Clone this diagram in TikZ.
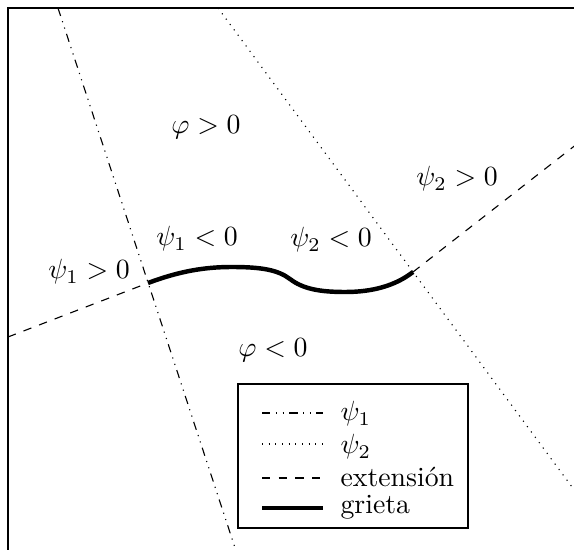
\documentclass[tikz,border=0pt]{standalone}
\usetikzlibrary{positioning}
\tikzset{
  lv frame/.style={draw=black, line width=.6pt},
  lv psi one/.style={draw=black, line width=.4pt, dash dot dot},
  lv psi two/.style={draw=black, line width=.4pt, dotted},
  lv extension/.style={draw=black, line width=.4pt, dashed},
  lv crack/.style={draw=black, line width=1.6pt},
  lv region/.style={inner sep=1pt},
  lv key/.style={anchor=west, inner sep=0pt}
}

\begin{document}
\begin{tikzpicture}[x=.36pt,y=-.36pt]
  \useasboundingbox (0,0) rectangle (574,550);
  \clip (0,0) rectangle (574,550);
  \path[fill=white] (0,0) rectangle (574,550);
  \draw[lv frame] (8,8) rectangle (620,600);

  % crack tips and level set lines
  \coordinate (tipL) at (148,283);
  \coordinate (tipR) at (413,272);
  \coordinate (psi1 top) at (58,8);
  \coordinate (psi1 bot) at (239,560);
  \coordinate (psi2 top) at (218,8);
  \coordinate (psi2 bot) at (626,560);
  \coordinate (ext left) at (8,337);
  \coordinate (ext right) at (600,126);

  \draw[lv psi one] (psi1 top) -- (psi1 bot);
  \draw[lv psi two] (psi2 top) -- (psi2 bot);
  \draw[lv extension] (ext left) -- (tipL);
  \draw[lv extension] (tipR) -- (ext right);
  \draw[lv crack] (tipL) .. controls (180,271) and (205,267) .. (232,267)
    .. controls (262,267) and (278,270) .. (290,279)
    .. controls (303,289) and (320,292) .. (345,292)
    .. controls (372,292) and (395,286) .. (tipR);

  % regions
  \node[lv region] (phi pos) at (206,127) {$\varphi>0$};
  \node[lv region] (phi neg) at (273,350) {$\varphi<0$};
  \node[lv region] (psi1 pos) at (89,272) {$\psi_1>0$};
  \node[lv region] (psi1 neg) at (197,239) {$\psi_1<0$};
  \node[lv region] (psi2 neg) at (331,240) {$\psi_2<0$};
  \node[lv region] (psi2 pos) at (457,179) {$\psi_2>0$};

  % legend
  \draw[lv frame, fill=white] (238,384) rectangle (468,528);
  \draw[lv psi one] (262,413) -- (323,413);
  \draw[lv psi two] (262,444) -- (323,444);
  \draw[lv extension] (262,478) -- (323,478);
  \draw[lv crack] (262,508) -- (323,508);
  \node[lv key] (key psi1) at (340,414) {$\psi_1$};
  \node[lv key] (key psi2) at (340,447) {$\psi_2$};
  \node[lv key] (key ext) at (340,477) {extensión};
  \node[lv key] (key crack) at (340,507) {grieta};
\end{tikzpicture}
\end{document}
